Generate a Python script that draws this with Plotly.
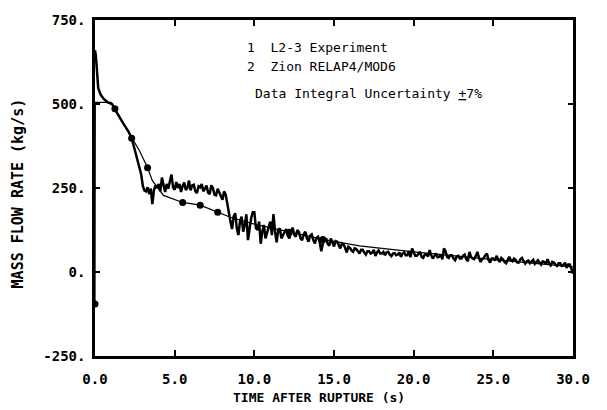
import plotly.graph_objects as go

# ---- data ----
exp_time = [0.0, 0.05, 0.1, 0.15, 0.2, 0.35, 0.55, 0.8, 1.07, 1.25, 1.5, 1.8, 2.1, 2.3, 2.5, 2.7, 2.9, 3.0, 3.1,
            3.2, 3.3, 3.4, 3.5, 3.6, 3.7, 3.8, 3.9,
            4.0, 4.1, 4.2, 4.3, 4.4, 4.5, 4.6, 4.7, 4.8, 4.9,
            5.0, 5.1, 5.2, 5.3, 5.4, 5.5, 5.6, 5.7, 5.8, 5.9,
            6.0, 6.1, 6.2, 6.3, 6.4, 6.5, 6.6, 6.7, 6.8, 6.9,
            7.0, 7.1, 7.2, 7.3, 7.4, 7.5, 7.6, 7.7, 7.8, 7.9,
            8.0, 8.1, 8.2, 8.3, 8.4, 8.5, 8.6, 8.7, 8.8, 8.9,
            9.0, 9.1, 9.2, 9.3, 9.4, 9.5, 9.6, 9.7, 9.8, 9.9,
            10.0, 10.1, 10.2, 10.3, 10.4, 10.5, 10.6, 10.7, 10.8, 10.9,
            11.0, 11.1, 11.2, 11.3, 11.4, 11.5, 11.6, 11.7, 11.8, 11.9,
            12.0, 12.1, 12.2, 12.3, 12.4, 12.5, 12.6, 12.7, 12.8, 12.9,
            13.0, 13.1, 13.2, 13.3, 13.4, 13.5, 13.6, 13.7, 13.8, 13.9,
            14.0, 14.1, 14.2, 14.3, 14.4, 14.5, 14.6, 14.7, 14.8, 14.9,
            15.0, 15.1, 15.2, 15.3, 15.4, 15.5, 15.6, 15.7, 15.8, 15.9,
            16.0, 16.1, 16.2, 16.3, 16.4, 16.5, 16.6, 16.7, 16.8, 16.9,
            17.0, 17.1, 17.2, 17.3, 17.4, 17.5, 17.6, 17.7, 17.8, 17.9,
            18.0, 18.1, 18.2, 18.3, 18.4, 18.5, 18.6, 18.7, 18.8, 18.9,
            19.0, 19.1, 19.2, 19.3, 19.4, 19.5, 19.6, 19.7, 19.8, 19.9,
            20.0, 20.1, 20.2, 20.3, 20.4, 20.5, 20.6, 20.7, 20.8, 20.9,
            21.0, 21.1, 21.2, 21.3, 21.4, 21.5, 21.6, 21.7, 21.8, 21.9,
            22.0, 22.1, 22.2, 22.3, 22.4, 22.5, 22.6, 22.7, 22.8, 22.9,
            23.0, 23.1, 23.2, 23.3, 23.4, 23.5, 23.6, 23.7, 23.8, 23.9,
            24.0, 24.1, 24.2, 24.3, 24.4, 24.5, 24.6, 24.7, 24.8, 24.9,
            25.0, 25.1, 25.2, 25.3, 25.4, 25.5, 25.6, 25.7, 25.8, 25.9,
            26.0, 26.1, 26.2, 26.3, 26.4, 26.5, 26.6, 26.7, 26.8, 26.9,
            27.0, 27.1, 27.2, 27.3, 27.4, 27.5, 27.6, 27.7, 27.8, 27.9,
            28.0, 28.1, 28.2, 28.3, 28.4, 28.5, 28.6, 28.7, 28.8, 28.9,
            29.0, 29.1, 29.2, 29.3, 29.4, 29.5, 29.6, 29.7, 29.8, 29.9,
            30.0]
exp_flow = [660, 645, 615, 580, 548, 528, 515, 505, 500, 484, 463, 440, 418, 398, 363, 330, 290, 257, 243,
            240, 252, 232, 248, 202, 244, 258, 250,
            262, 240, 281, 255, 238, 262, 248, 270, 290, 252,
            245, 268, 250, 262, 238, 256, 266, 244, 250, 272,
            243, 258, 260, 240, 235, 255, 252, 262, 240, 248,
            257, 236, 232, 258, 250, 230, 228, 248, 238, 225,
            215, 240, 230, 205, 170, 150, 128, 165, 175, 130,
            110, 150, 165, 120, 140, 172, 95, 135, 160, 178,
            178, 130, 125, 150, 84, 120, 140, 100, 115, 135,
            150, 110, 172, 120, 88, 125, 130, 100, 110, 122,
            128, 108, 100, 120, 132, 112, 105, 125, 119, 100,
            95, 112, 120, 100, 90, 108, 112, 95, 85, 102,
            105, 90, 62, 85, 92, 100, 84, 78, 100, 88,
            76, 92, 90, 80, 70, 85, 82, 72, 58, 75,
            72, 64, 60, 70, 68, 62, 55, 66, 66, 58,
            52, 62, 62, 55, 58, 66, 48, 58, 64, 55,
            55, 60, 50, 58, 60, 52, 47, 55, 56, 50,
            52, 58, 45, 55, 58, 50, 50, 62, 44, 70,
            56, 48, 48, 55, 60, 45, 42, 52, 52, 46,
            65, 50, 40, 48, 55, 44, 45, 52, 38, 70,
            62, 45, 42, 50, 50, 40, 35, 46, 48, 40,
            40, 48, 52, 38, 32, 60, 45, 40, 38, 48,
            60, 42, 30, 38, 42, 50, 55, 36, 28, 40,
            40, 34, 48, 38, 30, 42, 38, 30, 26, 36,
            45, 35, 32, 40, 36, 28, 28, 38, 42, 32,
            25, 32, 34, 26, 30, 36, 24, 30, 35, 28,
            22, 32, 30, 24, 38, 26, 20, 30, 28, 22,
            18, 26, 26, 18, 20, 28, 12, 22, 22, 10,
            -5]

calc_time = [0.0, 0.02, 0.1, 1.0, 1.25, 2.3, 2.8, 3.3, 3.6, 4.3, 5.5, 6.6, 7.7, 8.5,
             10.2, 12.2, 14.3, 16.6, 20.0, 25.0, 30.0]
calc_flow = [-95, 505, 505, 505, 486, 398, 360, 310, 272, 228, 207, 199, 178, 163,
             140, 118, 97, 78, 60, 37, 15]
calc_marker_time = [0.0, 1.25, 2.3, 3.3, 5.5, 6.6, 7.7, 12.2, 14.3]

x_ticks = [0, 5, 10, 15, 20, 25, 30]
x_ticktext = ["0.0", "5.0", "10.0", "15.0", "20.0", "25.0", "30.0"]
y_ticks = [-250, 0, 250, 500, 750]
y_ticktext = ["-250.", "0.", "250.", "500.", "750."]

calc_lookup = dict(zip(calc_time, calc_flow))
marker_flow = [calc_lookup[t] for t in calc_marker_time]

fig = go.Figure()
fig.add_trace(go.Scatter(x=exp_time, y=exp_flow, mode="lines",
                         line=dict(color="black", width=2.5), name="L2-3 Experiment"))
fig.add_trace(go.Scatter(x=calc_time, y=calc_flow, mode="lines",
                         line=dict(color="black", width=1.2), name="Zion RELAP4/MOD6"))
fig.add_trace(go.Scatter(x=calc_marker_time, y=marker_flow, mode="markers",
                         marker=dict(color="black", size=7), showlegend=False))

tickfont = dict(family="DejaVu Sans Mono", size=14, color="black", weight="bold")
fig.update_xaxes(range=[0, 30], tickvals=x_ticks, ticktext=x_ticktext, ticks="inside",
                 ticklen=6, tickwidth=1.5, tickcolor="black", showline=True, linewidth=2.5,
                 linecolor="black", mirror="ticks", showgrid=False, zeroline=False,
                 tickfont=tickfont, ticklabelstandoff=8)
fig.update_yaxes(range=[-250, 750], tickvals=y_ticks, ticktext=y_ticktext, ticks="inside",
                 ticklen=5, tickwidth=1.5, tickcolor="black", showline=True, linewidth=2.5,
                 linecolor="black", mirror="ticks", showgrid=False, zeroline=False,
                 tickfont=tickfont, ticklabelstandoff=4)

txt = dict(family="DejaVu Sans Mono", size=13, color="black")
ttl = dict(family="DejaVu Sans Mono", size=13, color="black", weight="bold")
annotations = [
    dict(text="1\u00a0\u00a0L2-3 Experiment", x=0.314, y=0.918, xref="paper", yref="paper",
         xanchor="left", yanchor="middle", showarrow=False, font=txt),
    dict(text="2\u00a0\u00a0Zion RELAP4/MOD6", x=0.314, y=0.862, xref="paper", yref="paper",
         xanchor="left", yanchor="middle", showarrow=False, font=txt),
    dict(text="Data Integral Uncertainty <u>+</u>7%", x=0.331, y=0.780, xref="paper", yref="paper",
         xanchor="left", yanchor="middle", showarrow=False, font=txt),
    dict(text="TIME AFTER RUPTURE (s)", x=0.469, y=-0.123, xref="paper", yref="paper",
         xanchor="center", yanchor="middle", showarrow=False, font=ttl),
    dict(text="MASS FLOW RATE (kg/s)", x=-0.161, y=0.484, xref="paper", yref="paper",
         xanchor="center", yanchor="middle", showarrow=False, textangle=-90,
         font=dict(family="DejaVu Sans Mono", size=15, color="black", weight="bold")),
]

fig.update_layout(width=607, height=410, margin=dict(l=95, r=34, t=15, b=54),
                  plot_bgcolor="white", paper_bgcolor="white", showlegend=False,
                  annotations=annotations)

fig.write_html("out.html")
